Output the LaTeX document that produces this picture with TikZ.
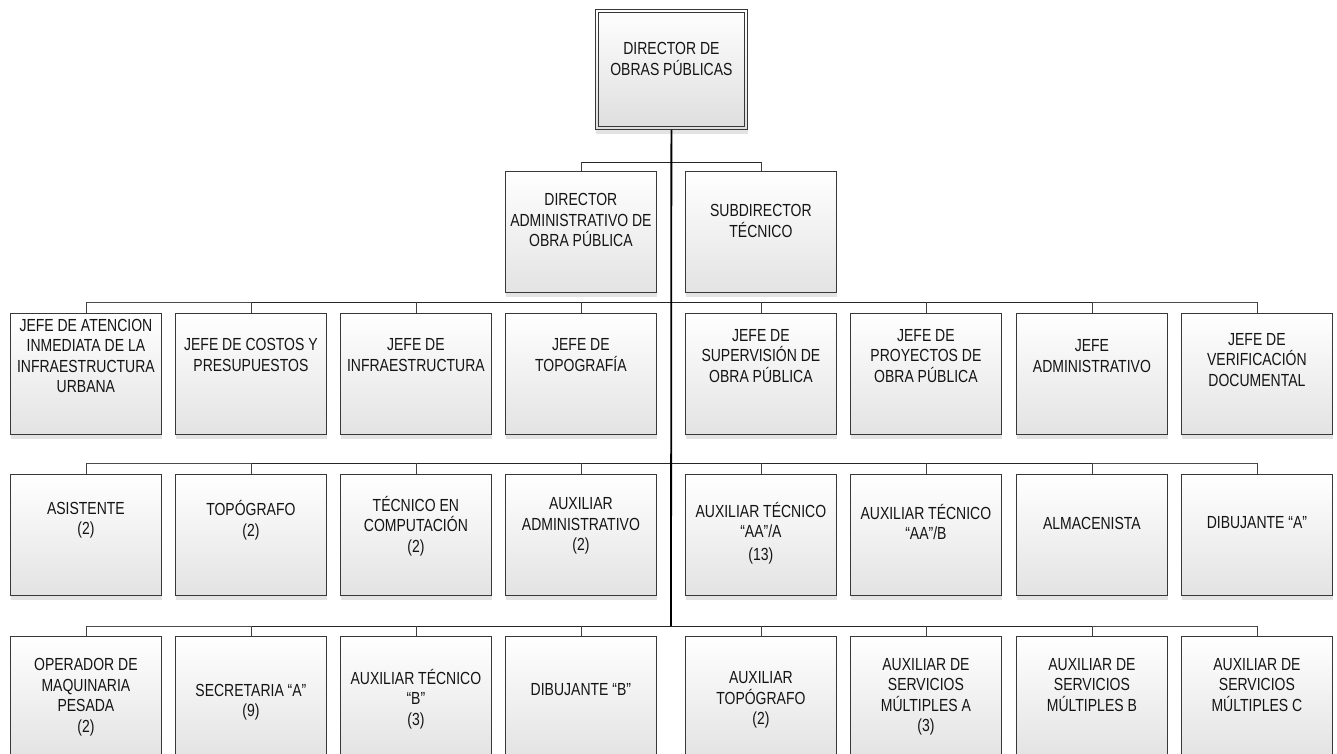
\documentclass[tikz,border=0pt]{standalone}
\usepackage{fontspec}
\setmainfont{Liberation Sans}[FakeStretch=0.80]
\usetikzlibrary{calc,shadows}

\tikzset{
  unit/.style={draw=black!78, line width=0.8pt, rectangle,
    top color=white, bottom color=black!11,
    minimum width=151pt, minimum height=121pt, inner sep=0pt,
    drop shadow={shadow xshift=0.8pt, shadow yshift=-5pt, fill=black!11, opacity=1}},
  unitlabel/.style={align=center, text=black!92, inner sep=0pt,
    font=\fontsize{17.5}{20.5}\selectfont},
  trunk/.style={line width=1.8pt, black},
  bus/.style={line width=0.9pt, black!85},
  busouter/.style={line width=0.7pt, black!70},
  drop/.style={line width=0.7pt, black!75},
}

% name, left x, top y, label y, label text
\newcommand\orgunit[5]{%
  \node[unit, anchor=north west] (#1) at (#2,#3) {};
  \node[unitlabel] (#1-t) at (#1.center |- 0,#4) {#5};}

\begin{document}
\begin{tikzpicture}[x=1pt, y=-1pt]
\useasboundingbox (0,0) rectangle (1337,754);
\clip (0,0) rectangle (1337,754);
\fill[white] (0,0) rectangle (1337,754);

% bus rows
\coordinate (bus1) at (671,162);
\coordinate (bus2) at (671,302);
\coordinate (bus3) at (671,463);
\coordinate (bus4) at (671,626);

% head of the department
\node[unit, minimum width=152pt, minimum height=120pt, anchor=north west,
      bottom color=black!13] (dir) at (595,9) {};
\draw[black!78, line width=0.8pt] ($(dir.north west)+(3.5,3.5)$) rectangle ($(dir.south east)+(-3.5,-3.5)$);
\node[unitlabel] (dir-t) at (dir.center |- 0,59) {DIRECTOR DE\\OBRAS PÚBLICAS};

% first level
\orgunit{da}{505}{171}{220}{DIRECTOR\\ADMINISTRATIVO DE\\OBRA PÚBLICA}
\orgunit{st}{685}{171}{221}{SUBDIRECTOR\\TÉCNICO}

% second level: heads of area
\orgunit{j1}{10}{313}{356}{JEFE DE ATENCION\\INMEDIATA DE LA\\INFRAESTRUCTURA\\URBANA}
\orgunit{j2}{175}{313}{355}{JEFE DE COSTOS Y\\PRESUPUESTOS}
\orgunit{j3}{340}{313}{355}{JEFE DE\\INFRAESTRUCTURA}
\orgunit{j4}{505}{313}{355}{JEFE DE\\TOPOGRAFÍA}
\orgunit{j5}{685}{313}{356}{JEFE DE\\SUPERVISIÓN DE\\OBRA PÚBLICA}
\orgunit{j6}{850}{313}{356}{JEFE DE\\PROYECTOS DE\\OBRA PÚBLICA}
\orgunit{j7}{1016}{313}{356}{JEFE\\ADMINISTRATIVO}
\orgunit{j8}{1181}{313}{360}{JEFE DE\\VERIFICACIÓN\\DOCUMENTAL}

% third level
\orgunit{a1}{10}{474}{520}{ASISTENTE\\(2)}
\orgunit{a2}{175}{474}{520}{TOPÓGRAFO\\(2)}
\orgunit{a3}{340}{474}{526}{TÉCNICO EN\\COMPUTACIÓN\\(2)}
\orgunit{a4}{505}{474}{526}{AUXILIAR\\ADMINISTRATIVO\\(2)}
\orgunit{a5}{685}{474}{533}{AUXILIAR TÉCNICO\\“AA”/A\\[2pt](13)}
\orgunit{a6}{850}{474}{522}{AUXILIAR TÉCNICO\\“AA”/B}
\orgunit{a7}{1016}{474}{523}{ALMACENISTA}
\orgunit{a8}{1181}{474}{523}{DIBUJANTE “A”}

% fourth level
\orgunit{b1}{10}{636}{697}{OPERADOR DE\\MAQUINARIA\\PESADA\\(2)}
\orgunit{b2}{175}{636}{702}{SECRETARIA “A”\\(9)}
\orgunit{b3}{340}{636}{699}{AUXILIAR TÉCNICO\\“B”\\(3)}
\orgunit{b4}{505}{636}{690}{DIBUJANTE “B”}
\orgunit{b5}{685}{636}{700}{AUXILIAR\\TOPÓGRAFO\\(2)}
\orgunit{b6}{850}{636}{697}{AUXILIAR DE\\SERVICIOS\\MÚLTIPLES A\\(3)}
\orgunit{b7}{1016}{636}{685}{AUXILIAR DE\\SERVICIOS\\MÚLTIPLES B}
\orgunit{b8}{1181}{636}{685}{AUXILIAR DE\\SERVICIOS\\MÚLTIPLES C}

% connectors
\draw[bus] (bus1 -| da.north) -- (bus1 -| st.north);
\draw[drop] (da.north) -- (da.north |- bus1);
\draw[drop] (st.north) -- (st.north |- bus1);

\foreach \r/\p in {2/j,3/a,4/b}{
  \draw[busouter] (bus\r -| \p1.north) -- (bus\r -| \p2.north);
  \draw[bus] (bus\r -| \p2.north) -- (bus\r -| \p7.north);
  \draw[busouter] (bus\r -| \p7.north) -- (bus\r -| \p8.north);
  \foreach \i in {1,...,8}{
    \draw[drop] (\p\i.north) -- (\p\i.north |- bus\r);
  }
}

\draw[trunk] (dir.south) -- (bus4);
\end{tikzpicture}
\end{document}
